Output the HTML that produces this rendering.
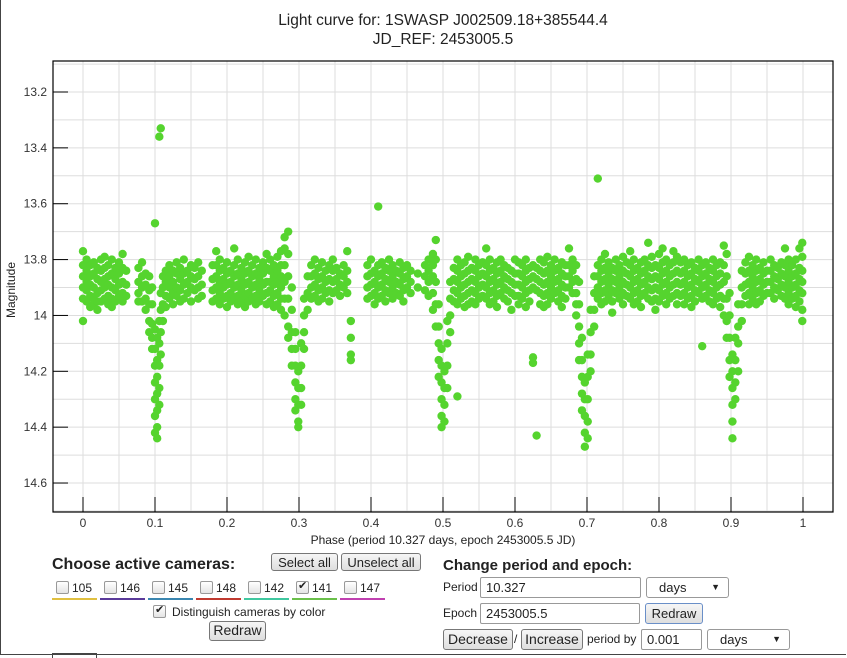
<!DOCTYPE html>
<html><head><meta charset="utf-8">
<style>
body{margin:0;width:847px;height:657px;background:#fff;font-family:"Liberation Sans",sans-serif;position:relative;overflow:hidden;color:#222}
.abs{position:absolute}
.btn{position:absolute;border:1px solid #777;border-radius:3px;background:linear-gradient(#f6f6f6,#dedede);font-size:13px;text-align:center;box-sizing:border-box;line-height:17px}
.inp{position:absolute;border:1px solid #999;border-radius:2px;background:#fff;font-size:13px;box-sizing:border-box;padding-left:5px;line-height:19px}
.sel{position:absolute;border:1px solid #999;border-radius:3px;background:#fff;font-size:13px;box-sizing:border-box;padding-left:12px;line-height:19px}
.sel span{position:absolute;right:8px;font-size:9px}
.cb{position:absolute;width:11px;height:11px;border:1px solid #999;border-radius:2px;background:linear-gradient(#fff,#e4e4e4)}
.lbl{position:absolute;font-size:12px}
</style></head><body>
<div class="abs" style="left:0;top:0;width:845px;height:654px;border:1px solid #444;border-top:none;border-right:none"></div>
<svg class="abs" style="left:0;top:0" width="847" height="550">
<text x="443" y="25" font-size="15.5" text-anchor="middle" fill="#222">Light curve for: 1SWASP J002509.18+385544.4</text>
<text x="443" y="44" font-size="15.5" text-anchor="middle" fill="#222">JD_REF: 2453005.5</text>
<g id="grid"></g><g id="pts"></g><g id="axes"></g>
<text transform="translate(15,290) rotate(-90)" font-size="12" text-anchor="middle" fill="#222">Magnitude</text>
<text x="443" y="544" font-size="12" text-anchor="middle" fill="#222">Phase (period 10.327 days, epoch 2453005.5 JD)</text>
</svg>

<div class="abs" style="left:52px;top:556px;font-size:16px;font-weight:bold">Choose active cameras:</div>
<div class="btn" style="left:271px;top:553px;width:67px;height:18px">Select all</div>
<div class="btn" style="left:341px;top:553px;width:80px;height:18px">Unselect all</div>
<div id="cams"></div>
<div class="cb" style="left:153px;top:605px"><span style="position:absolute;left:1px;top:-3px;font-size:11px">✔</span></div>
<div class="lbl" style="left:172px;top:605px">Distinguish cameras by color</div>
<div class="btn" style="left:209px;top:621px;width:57px;height:20px;font-size:14px">Redraw</div>

<div class="abs" style="left:443px;top:557px;font-size:15px;font-weight:bold">Change period and epoch:</div>
<div class="lbl" style="left:443px;top:580px">Period</div>
<div class="inp" style="left:480px;top:577px;width:161px;height:21px">10.327</div>
<div class="sel" style="left:646px;top:577px;width:83px;height:21px">days<span>▼</span></div>
<div class="lbl" style="left:443px;top:606px">Epoch</div>
<div class="inp" style="left:480px;top:603px;width:160px;height:21px">2453005.5</div>
<div class="btn" style="left:645px;top:603px;width:58px;height:21px;font-size:13px;border-color:#6a8fc8;line-height:19px">Redraw</div>
<div class="btn" style="left:443px;top:629px;width:70px;height:21px;font-size:14px;line-height:19px">Decrease</div>
<div class="lbl" style="left:514px;top:632px">/</div>
<div class="btn" style="left:521px;top:629px;width:62px;height:21px;font-size:14px;line-height:19px">Increase</div>
<div class="lbl" style="left:587px;top:632px">period by</div>
<div class="inp" style="left:641px;top:629px;width:61px;height:21px">0.001</div>
<div class="sel" style="left:707px;top:629px;width:83px;height:21px">days<span>▼</span></div>
<div class="abs" style="left:52px;top:653px;width:43px;height:4px;border:1px solid #444;border-bottom:none"></div>

<script>
const xTicks=[0,0.1,0.2,0.3,0.4,0.5,0.6,0.7,0.8,0.9,1];
const xTickLabels=["0","0.1","0.2","0.3","0.4","0.5","0.6","0.7","0.8","0.9","1"];
const yTicks=[13.2,13.4,13.6,13.8,14,14.2,14.4,14.6];
const yTickLabels=["13.2","13.4","13.6","13.8","14","14.2","14.4","14.6"];
const phases=[0.000,0.005,0.010,0.015,0.020,0.025,0.030,0.035,0.040,0.045,0.050,0.055,0.060,0.077,0.082,0.087,0.092,0.096,0.100,0.103,0.106,0.108,0.111,0.115,0.120,0.125,0.130,0.135,0.140,0.145,0.150,0.155,0.160,0.165,0.180,0.185,0.190,0.195,0.200,0.205,0.210,0.215,0.220,0.225,0.230,0.235,0.240,0.245,0.250,0.255,0.260,0.265,0.270,0.275,0.280,0.285,0.290,0.295,0.299,0.303,0.307,0.312,0.317,0.322,0.327,0.332,0.337,0.342,0.347,0.352,0.357,0.362,0.367,0.372,0.395,0.400,0.405,0.410,0.415,0.420,0.425,0.430,0.435,0.440,0.445,0.450,0.455,0.465,0.475,0.480,0.486,0.490,0.494,0.498,0.502,0.506,0.510,0.515,0.520,0.525,0.530,0.535,0.540,0.545,0.550,0.555,0.560,0.565,0.570,0.575,0.580,0.585,0.590,0.595,0.600,0.605,0.610,0.615,0.620,0.625,0.630,0.635,0.640,0.645,0.650,0.655,0.660,0.665,0.670,0.675,0.680,0.685,0.689,0.693,0.697,0.701,0.705,0.710,0.715,0.720,0.725,0.730,0.735,0.740,0.745,0.750,0.755,0.760,0.765,0.770,0.775,0.780,0.785,0.790,0.795,0.800,0.805,0.810,0.815,0.820,0.825,0.830,0.835,0.840,0.845,0.850,0.855,0.860,0.865,0.870,0.875,0.880,0.885,0.890,0.894,0.898,0.902,0.906,0.910,0.915,0.920,0.925,0.930,0.935,0.940,0.945,0.950,0.955,0.960,0.965,0.970,0.975,0.980,0.985,0.990,0.995,0.999];
const mags=[
[13.77,13.82,13.86,13.90,13.94,14.02],[13.80,13.84,13.88,13.91,13.95],[13.82,13.86,13.89,13.93,13.97],[13.81,13.85,13.90,13.94,13.96],[13.83,13.87,13.92,13.95,13.98],[13.80,13.84,13.88,13.91,13.95],[13.79,13.83,13.87,13.90,13.94],[13.82,13.86,13.89,13.93,13.96],[13.80,13.85,13.90,13.94,13.97],[13.83,13.87,13.91,13.95],[13.81,13.85,13.89,13.93],[13.78,13.83,13.88,13.92,13.95],[13.84,13.89,13.93],
[13.83,13.88,13.92,13.95],[13.81,13.86,13.90,13.95],[13.85,13.89,13.94,13.98],[13.86,13.91,13.96,14.02,14.06],[13.90,13.96,14.03,14.08,14.12],[13.67,14.05,14.12,14.18,14.24,14.30,14.36,14.42],[14.08,14.16,14.22,14.28,14.34,14.40,14.44],[13.36,14.02,14.10,14.18,14.26,14.32],[13.33,13.92,13.98,14.06,14.14],[13.86,13.90,13.96,14.02],[13.84,13.88,13.93,13.97],
[13.82,13.86,13.90,13.94],[13.84,13.88,13.92,13.96],[13.81,13.85,13.90,13.93],[13.83,13.87,13.91,13.95],[13.80,13.85,13.89,13.94],[13.84,13.88,13.92],[13.82,13.86,13.90,13.95],[13.83,13.87,13.91],[13.81,13.86,13.90,13.94],[13.84,13.89,13.93],
[13.82,13.87,13.91,13.95],[13.77,13.82,13.86,13.90,13.94],[13.80,13.84,13.88,13.92,13.96],[13.83,13.87,13.90,13.94],[13.81,13.85,13.89,13.93,13.97],[13.84,13.88,13.92,13.95],[13.76,13.82,13.86,13.90,13.94],[13.80,13.85,13.89,13.93,13.96],[13.83,13.87,13.91,13.95],[13.81,13.85,13.89,13.93,13.97],[13.79,13.84,13.88,13.92,13.95],[13.82,13.86,13.90,13.94],[13.80,13.85,13.89,13.93,13.96],[13.83,13.87,13.91,13.95],[13.81,13.85,13.89,13.93],[13.78,13.83,13.88,13.92,13.96],[13.80,13.84,13.88,13.91,13.95],[13.82,13.86,13.89,13.93,13.97],[13.79,13.84,13.88,13.92,13.96],[13.77,13.82,13.86,13.90,13.94,13.98],[13.72,13.76,13.82,13.88,13.94,14.00],[13.70,13.78,13.86,13.94,14.04,14.08],
[13.90,13.98,14.06,14.12,14.18],[14.06,14.12,14.18,14.24,14.30,14.34],[14.20,14.26,14.32,14.38,14.40],[14.10,14.18,14.26,14.32],[13.94,14.00,14.06,14.12],[13.86,13.92,13.98],[13.82,13.86,13.90,13.94],[13.80,13.85,13.89,13.93],[13.83,13.87,13.91,13.95],[13.81,13.86,13.90,13.94],[13.84,13.88,13.92],[13.82,13.87,13.91,13.95],[13.80,13.84,13.88,13.92],[13.83,13.87,13.91],[13.85,13.89,13.93],[13.82,13.86,13.90],[13.77,13.84,13.88,13.92],[14.02,14.08,14.14,14.16],
[13.82,13.86,13.90,13.94],[13.80,13.85,13.89,13.93],[13.84,13.88,13.92,13.96],[13.61,13.82,13.86,13.90,13.94],[13.81,13.85,13.89,13.93],[13.83,13.87,13.91,13.95],[13.80,13.84,13.88,13.92],[13.82,13.86,13.90,13.94],[13.84,13.88,13.92],[13.81,13.85,13.89,13.93],[13.83,13.87,13.91,13.95],[13.82,13.86,13.90],[13.84,13.88,13.92],[13.85,13.90],[13.82,13.86,13.91],[13.80,13.84,13.88,13.93],[13.78,13.82,13.86,13.92,13.98],[13.73,13.80,13.88,13.96,14.04],[13.96,14.04,14.10,14.16,14.22],[14.12,14.18,14.24,14.30,14.36,14.40],[14.20,14.26,14.32,14.38],[14.02,14.10,14.18,14.26],[13.88,13.94,14.00,14.06],
[13.83,13.87,13.91,13.95],[14.29,13.80,13.84,13.88,13.92,13.96],[13.82,13.86,13.90,13.94],[13.81,13.85,13.89,13.93,13.97],[13.79,13.84,13.88,13.92,13.96],[13.83,13.87,13.91,13.95],[13.80,13.84,13.88,13.92,13.96],[13.82,13.86,13.90,13.94],[13.81,13.85,13.89,13.93],[13.76,13.82,13.86,13.90,13.94],[13.80,13.84,13.88,13.92,13.96],[13.83,13.87,13.91,13.95],[13.81,13.85,13.89,13.93,13.97],[13.80,13.84,13.88,13.92],[13.82,13.86,13.90,13.94],[13.83,13.87,13.91,13.95],[13.84,13.88,13.92,13.98],[13.80,13.85,13.89,13.93],[13.81,13.85,13.89,13.93,13.96],[13.82,13.86,13.90,13.94],[13.80,13.84,13.88,13.92,13.97],[13.83,13.87,13.91,13.95],[13.82,13.86,13.90,14.15,14.17],[14.43,13.83,13.87,13.91],[13.80,13.84,13.88,13.92,13.96],[13.81,13.85,13.89,13.93,13.97],[13.79,13.84,13.88,13.92,13.96],[13.82,13.86,13.90,13.94],[13.80,13.84,13.88,13.92],[13.83,13.87,13.91,13.95],[13.81,13.85,13.89,13.93,13.97],[13.82,13.86,13.90,13.94],[13.76,13.82,13.86,13.90],[13.80,13.84,13.88,13.92],[13.82,13.87,13.92,13.96,14.00],[13.88,13.96,14.04,14.10,14.16],[14.08,14.16,14.22,14.28,14.34],[14.24,14.30,14.36,14.42,14.47],[14.14,14.22,14.30,14.38,14.44],[13.98,14.06,14.14,14.20],[13.86,13.92,13.98,14.04],
[13.51,13.82,13.86,13.90,13.94],[13.80,13.84,13.88,13.92,13.96],[13.78,13.83,13.87,13.91,13.95],[13.81,13.85,13.89,13.93],[13.83,13.87,13.91,13.95,13.99],[13.80,13.84,13.88,13.92],[13.82,13.86,13.90,13.94],[13.79,13.84,13.88,13.92,13.96],[13.81,13.85,13.89,13.93],[13.77,13.82,13.86,13.90,13.94],[13.80,13.84,13.88,13.92,13.96],[13.83,13.87,13.91,13.95],[13.81,13.85,13.89,13.93,13.97],[13.80,13.84,13.88,13.92],[13.74,13.82,13.86,13.90,13.94],[13.79,13.83,13.87,13.91,13.95],[13.82,13.86,13.90,13.94,13.98],[13.78,13.83,13.87,13.91,13.95],[13.76,13.81,13.85,13.89,13.93],[13.80,13.84,13.88,13.92,13.96],[13.82,13.86,13.90,13.94],[13.77,13.81,13.85,13.89,13.93],[13.79,13.84,13.88,13.92,13.96],[13.81,13.85,13.89,13.93],[13.80,13.84,13.88,13.92,13.96],[13.82,13.86,13.90,13.94],[13.81,13.85,13.89,13.93,13.97],[13.83,13.87,13.91,13.95],[13.80,13.84,13.88,13.92],[14.11,13.82,13.86,13.90,13.94],[13.81,13.85,13.89,13.93],[13.83,13.87,13.91,13.95],[13.80,13.84,13.88,13.92,13.96],[13.82,13.86,13.90,13.94],[13.81,13.85,13.89,13.93,13.97],[13.75,13.82,13.88,13.94,14.00],[13.78,13.86,13.94,14.02,14.08],[13.92,14.00,14.08,14.16,14.22],[14.14,14.20,14.26,14.32,14.38,14.44],[14.08,14.16,14.24,14.30],[13.96,14.04,14.10,14.20],[13.84,13.90,13.96,14.02],
[13.81,13.85,13.89,13.93],[13.79,13.84,13.88,13.92,13.96],[13.82,13.86,13.90,13.94],[13.80,13.84,13.88,13.92,13.96],[13.83,13.87,13.91,13.95],[13.81,13.85,13.89,13.93],[13.84,13.88,13.92],[13.80,13.84,13.88,13.92],[13.82,13.86,13.90,13.94],[13.83,13.87,13.91],[13.81,13.85,13.89,13.93],[13.76,13.82,13.86,13.90,13.94],[13.80,13.84,13.88,13.92,13.96],[13.82,13.86,13.90,13.94],[13.80,13.85,13.89,13.93,13.97],[13.76,13.83,13.87,13.91,13.95],[13.74,13.79,13.84,13.88,13.92,13.98,14.02]];

const X0=53,X1=833,Y0=61,Y1=512;
const xs=p=>83+p*720;
const ys=m=>92+(m-13.2)*279.3;
const NS="http://www.w3.org/2000/svg";
const grid=document.getElementById('grid'),pts=document.getElementById('pts'),ax=document.getElementById('axes');
function mk(tag,at,parent){const e=document.createElementNS(NS,tag);for(const k in at)e.setAttribute(k,at[k]);parent.appendChild(e);return e;}
for(let i=0;i<=21;i++){const p=-0.05+i*0.05;const x=xs(p);if(x<=X0||x>=X1)continue;
 const l=mk('line',{x1:x,x2:x,y1:Y0,y2:Y1,stroke:'#ddd'},grid);
 
 }
for(let i=0;i<=16;i++){const m=13.1+i*0.1;const y=ys(m);if(y<=Y0||y>=Y1)continue;
 const l=mk('line',{x1:X0,x2:X1,y1:y,y2:y,stroke:'#ddd'},grid);
 
 }
phases.forEach((p,i)=>{(mags[i]||[]).forEach(m=>{
 const c=mk('circle',{cx:xs(p),cy:ys(m),r:4.2,fill:'#55d42e'},pts);
 
 });});
const fr=mk('rect',{x:X0,y:Y0,width:X1-X0,height:Y1-Y0,fill:'none',stroke:'#000','stroke-width':1.2},ax);


xTicks.forEach((t,i)=>{const x=xs(t);
 mk('line',{x1:x,x2:x,y1:Y1-15,y2:Y1,stroke:'#000'},ax);
 const tx=mk('text',{x:x,y:527,'font-size':12,'text-anchor':'middle',fill:'#333'},ax);
 tx.textContent=xTickLabels[i];
 
 });
yTicks.forEach((t,i)=>{const y=ys(t);
 mk('line',{x1:X0,x2:X0+15,y1:y,y2:y,stroke:'#000'},ax);
 const tx=mk('text',{x:47,y:y+4,'font-size':12,'text-anchor':'end',fill:'#333'},ax);
 tx.textContent=yTickLabels[i];
 
 });
const camNames=["105","146","145","148","142","141","147"];
const camColors=["#e0c040","#5a3a9a","#3a86b0","#c03a30","#40c8a0","#6ac04a","#c040b0"];
const cams=document.getElementById('cams');
camNames.forEach((n,i)=>{const x=52+i*48;
 const d=document.createElement('div');d.className='abs';d.style.cssText=`left:${x}px;top:579px;width:45px;height:19px;border-bottom:2px solid ${camColors[i]}`;
 d.innerHTML=`<div class="cb" style="left:4px;top:2px">${n==="141"?'<span style="position:absolute;left:1px;top:-3px;font-size:11px">✔</span>':''}</div><span style="position:absolute;left:20px;top:2px;font-size:12px">${n}</span>`;
 
 
 cams.appendChild(d);});
</script>
</body></html>
